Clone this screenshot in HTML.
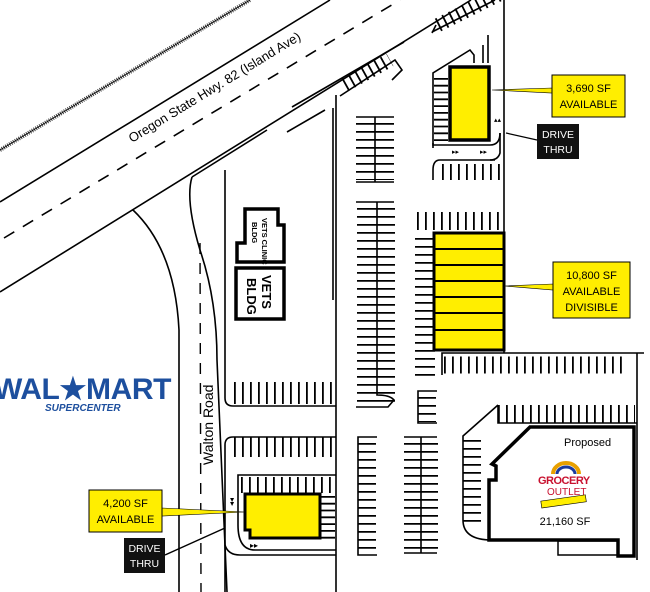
<!DOCTYPE html>
<html><head><meta charset="utf-8"><style>
html,body{margin:0;padding:0;background:#fff;}
svg{display:block;font-family:"Liberation Sans",sans-serif;}
.l{fill:none;stroke:#000;stroke-width:1.6}
.t{fill:none;stroke:#000;stroke-dasharray:1.8 5}
.v{fill:none;stroke:#000;stroke-dasharray:1.8 6.2}
</style></head><body>
<svg width="650" height="592" viewBox="0 0 650 592" xmlns="http://www.w3.org/2000/svg">
<!-- railway -->
<line x1="0" y1="150" x2="250" y2="0" stroke="#444" stroke-width="4" stroke-dasharray="1 1.2"/>
<line x1="0" y1="150" x2="250" y2="0" stroke="#000" stroke-width="0.8"/>
<!-- highway -->
<line class="l" x1="0" y1="202" x2="330" y2="0"/>
<line x1="4" y1="238" x2="400" y2="0" stroke="#000" stroke-width="1.6" stroke-dasharray="12 10"/>
<path class="l" d="M0,292 L471,0"/>
<path class="l" d="M292,107 L404,42 M287,132 L325,110 M192,177 L267,130"/>
<text x="0" y="0" font-size="13" transform="translate(132,143) rotate(-31.5)">Oregon State Hwy. 82 (Island Ave)</text>
<!-- Walton road -->
<path class="l" d="M133,210 Q175,250 179,330 L179,592"/>
<path class="l" d="M192,177 Q185,200 200,250 Q217,300 217,360 L227,592"/>
<line x1="200" y1="243" x2="201" y2="592" stroke="#000" stroke-width="1.4" stroke-dasharray="11 9"/>
<text font-size="14" transform="translate(213,465) rotate(-90)">Walton Road</text>
<!-- Walmart -->
<text x="-6" y="399" font-size="30" font-weight="bold" fill="#1d4f9e" letter-spacing="-1.5" textLength="176">WAL★MART</text>
<text x="45" y="411" font-size="10" font-weight="bold" font-style="italic" fill="#1d4f9e">SUPERCENTER</text>
<!-- parcel lines -->
<path class="l" d="M225,170 L225,398 Q225,406 233,406 L336,406"/>
<path class="l" d="M225,592 L225,445 Q225,437 233,437 L336,437"/>
<path class="l" d="M225,545 Q228,555 240,555 L336,555"/>
<line class="l" x1="336" y1="95" x2="336" y2="592"/>
<line class="l" x1="333" y1="108" x2="333" y2="300"/>
<line class="l" x1="504" y1="0" x2="504" y2="353"/>
<path class="l" d="M442,375 L442,353 L644,353"/>
<line class="l" x1="637" y1="353" x2="637" y2="560"/>
<!-- VETS buildings -->
<path fill="none" stroke="#000" stroke-width="3.5" d="M245,209 L278,209 L278,225 L284,225 L284,262 L237,262 L237,243 L245,243 Z"/>
<text font-size="7.5" font-weight="bold" transform="translate(262,218) rotate(90)">VETS CLINIC</text>
<text font-size="7.5" font-weight="bold" transform="translate(252,222) rotate(90)">BLDG</text>
<rect x="236" y="268" width="48" height="51" fill="none" stroke="#000" stroke-width="3.5"/>
<text font-size="13" font-weight="bold" transform="translate(262,275) rotate(90)">VETS</text>
<text font-size="13" font-weight="bold" transform="translate(247,278) rotate(90)">BLDG</text>
<!-- stalls parcel 1 bottom -->
<line class="v" x1="234" y1="393" x2="336" y2="393" stroke-width="22"/>
<line class="v" x1="234" y1="447" x2="336" y2="447" stroke-width="20"/>
<path class="l" d="M238,525 L238,475 L336,475"/>
<line class="v" x1="241" y1="485" x2="336" y2="485" stroke-width="16"/>
<!-- 4200 bldg -->
<path fill="#ffee00" stroke="#000" stroke-width="3" d="M245,494 L320,494 L320,538 L250,538 L250,530 L245,530 Z"/>
<line class="t" x1="328" y1="496" x2="328" y2="540" stroke-width="14"/>
<path class="l" d="M238,525 Q238,550 255,550 L336,550"/>
<text x="250" y="548" font-size="8">▸▸</text>
<text x="228" y="504" font-size="8" transform="rotate(90 232 502)">▸▸</text>
<!-- central islands -->
<path class="l" d="M356,117 L394,117 M375,117 L375,182 M356,182 L394,182"/>
<line class="v" x1="375" y1="123" x2="375" y2="180" stroke-width="38"/>
<path class="l" d="M356,202 L394,202 M377,202 L377,395 Q390,395 394,400 L388,407 L356,407"/>
<line class="v" x1="376" y1="208" x2="376" y2="405" stroke-width="38"/>
<path class="l" d="M377,437 L358,437 L358,555 L377,555"/>
<line class="v" x1="367" y1="443" x2="367" y2="553" stroke-width="18"/>
<path class="l" d="M404,437 L437,437 M421,437 L421,553 M404,553 L437,553"/>
<line class="v" x1="421" y1="443" x2="421" y2="552" stroke-width="34"/>
<path class="l" d="M437,391 L418,391 L418,423 L437,423"/>
<line class="v" x1="427" y1="397" x2="427" y2="422" stroke-width="18"/>
<!-- 10800 stalls and bldg -->
<line class="v" x1="425" y1="238" x2="425" y2="377" stroke-width="20"/>
<line class="v" x1="417" y1="221" x2="500" y2="221" stroke-width="18"/>
<rect x="434" y="233" width="70" height="117" fill="#ffee00" stroke="#000" stroke-width="3"/>
<path stroke="#000" stroke-width="2" d="M434,249 H504 M434,265 H504 M434,281 H504 M434,297 H504 M434,313 H504 M434,330 H504"/>
<line class="v" x1="444" y1="365" x2="625" y2="365" stroke-width="17"/>
<!-- grocery -->
<line class="v" x1="498" y1="414" x2="635" y2="414" stroke-width="18"/>
<path class="l" d="M498,405 L498,423 L637,423 M498,405 L463,436 L463,520 Q463,540 492,540"/>
<line class="v" x1="472" y1="440" x2="472" y2="523" stroke-width="18"/>
<path fill="#fff" stroke="#000" stroke-width="3.5" d="M530,427 L634,427 L634,556 L618,556 L618,540 L489,540 L489,480 L496,480 L496,466 L492,464 Z"/>
<rect x="558" y="541" width="60" height="14" fill="none" stroke="#000" stroke-width="1.5"/>
<text x="564" y="446" font-size="11">Proposed</text>
<path d="M553,474 A13,11 0 0 1 579,474" fill="none" stroke="#e8a000" stroke-width="4"/>
<path d="M557,474 A9,7 0 0 1 575,474" fill="none" stroke="#1a3a9e" stroke-width="3"/>
<text x="538" y="484" font-size="11" font-weight="bold" fill="#c8102e" letter-spacing="-0.5">GROCERY</text>
<text x="547" y="495" font-size="10" fill="#c8102e">OUTLET</text>
<rect x="541" y="498" width="45" height="7" fill="#ffee00" stroke="#000" stroke-width="0.6" transform="rotate(-8 563 501)"/>
<text x="565" y="525" font-size="11" text-anchor="middle">21,160 SF</text>
<!-- top diagonal stalls -->
<path class="l" d="M340,96 L395,60 L402,70 L392,80 M432,32 L495,0"/>
<line x1="345" y1="85" x2="390" y2="60" stroke="#000" stroke-width="14" stroke-dasharray="1.8 5.5"/>
<line x1="438" y1="25" x2="500" y2="-6" stroke="#000" stroke-width="14" stroke-dasharray="1.8 5.5"/>
<path class="l" d="M432,33 L436,25"/>
<!-- 3690 area -->
<path class="l" d="M433,148 L433,73 L470,50 L474,55 L474,63 M483,63 L483,45 M488,63 L488,35"/>
<line class="t" x1="441" y1="78" x2="441" y2="142" stroke-width="14"/>
<path class="l" d="M433,143 L433,145 L490,145 Q500,145 500,133"/>
<path class="l" d="M495,160 L440,160 Q433,160 433,170 L433,180"/>
<line class="v" x1="442" y1="172" x2="500" y2="172" stroke-width="16"/>
<path class="l" d="M500,133 L500,153 Q498,160 490,160"/>
<rect x="450" y="67" width="39" height="73" fill="#ffee00" stroke="#000" stroke-width="3.5"/>
<text x="452" y="154" font-size="7">▸▸</text>
<text x="480" y="154" font-size="7">▸▸</text>
<text x="494" y="122" font-size="7">▴▴</text>
<!-- labels -->
<path d="M492,90 L552,88 L552,93 Z" fill="#ffee00" stroke="#000" stroke-width="0.6"/>
<rect x="552" y="75" width="73" height="42" fill="#ffee00" stroke="#000" stroke-width="1"/>
<text x="588.5" y="92" font-size="11" text-anchor="middle">3,690 SF</text>
<text x="588.5" y="108" font-size="11" text-anchor="middle">AVAILABLE</text>
<line x1="506" y1="133" x2="537" y2="140" stroke="#000" stroke-width="1.2"/>
<rect x="537" y="124" width="42" height="35" fill="#111"/>
<text x="558" y="138" font-size="10.5" fill="#fff" text-anchor="middle">DRIVE</text>
<text x="558" y="153" font-size="10.5" fill="#fff" text-anchor="middle">THRU</text>
<path d="M504,286 L553,284 L553,290 Z" fill="#ffee00" stroke="#000" stroke-width="0.6"/>
<rect x="553" y="262" width="77" height="56" fill="#ffee00" stroke="#000" stroke-width="1"/>
<text x="591.5" y="279" font-size="11" text-anchor="middle">10,800 SF</text>
<text x="591.5" y="295" font-size="11" text-anchor="middle">AVAILABLE</text>
<text x="591.5" y="311" font-size="11" text-anchor="middle">DIVISIBLE</text>
<path d="M162,508 L245,512 L162,516 Z" fill="#ffee00" stroke="#000" stroke-width="0.6"/>
<rect x="89" y="490" width="73" height="42" fill="#ffee00" stroke="#000" stroke-width="1"/>
<text x="125.5" y="507" font-size="11" text-anchor="middle">4,200 SF</text>
<text x="125.5" y="523" font-size="11" text-anchor="middle">AVAILABLE</text>
<line x1="225" y1="528" x2="165" y2="555" stroke="#000" stroke-width="1.5"/>
<rect x="124" y="538" width="41" height="35" fill="#111"/>
<text x="144.5" y="552" font-size="10.5" fill="#fff" text-anchor="middle">DRIVE</text>
<text x="144.5" y="567" font-size="10.5" fill="#fff" text-anchor="middle">THRU</text>
</svg>
</body></html>
